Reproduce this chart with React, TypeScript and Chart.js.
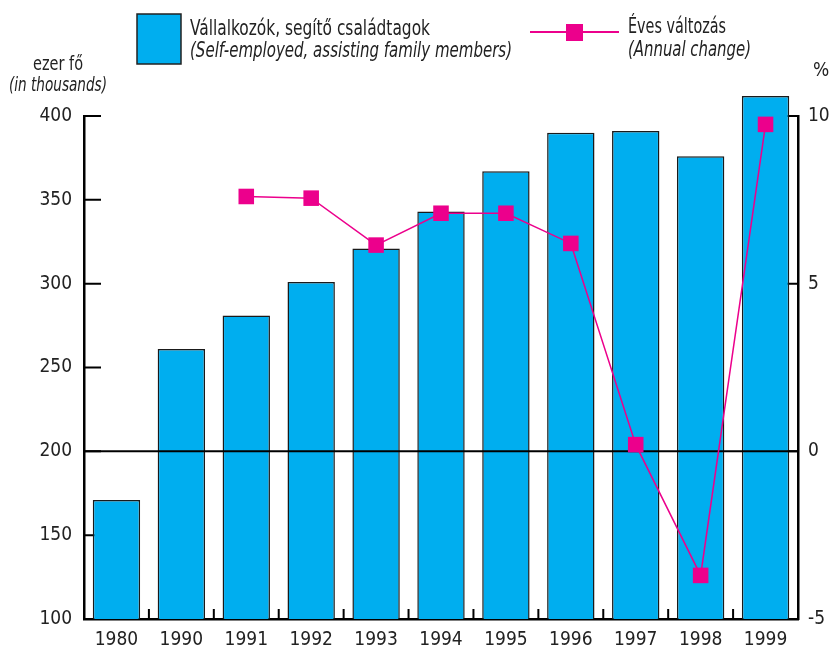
import React, { useEffect, useRef } from "react";
import { Chart, registerables } from "chart.js";

Chart.register(...registerables);

const categories = ["1980", "1990", "1991", "1992", "1993", "1994", "1995", "1996", "1997", "1998", "1999"];
const employed = [171, 261, 281, 301, 321, 343, 367, 390, 391, 376, 412];
const annualChange = [null, null, 7.6, 7.55, 6.15, 7.1, 7.1, 6.2, 0.2, -3.7, 9.75];
const leftTicks = [100, 150, 200, 250, 300, 350, 400];
const rightTicks = [-5, 0, 5, 10];

const BLUE = "#00AEEF";
const MAGENTA = "#EC008C";
const FONT = "'Liberation Sans Narrow', 'DejaVu Sans Condensed', 'Arial Narrow', sans-serif";
const TEXT = "#222";

function fitText(ctx: any, text: string, x: number, y: number, font: string, width: number, align: string) {
  ctx.save();
  ctx.font = font;
  const w = ctx.measureText(text).width;
  const sx = w > 0 ? width / w : 1;
  let left = x;
  if (align === "center") left = x - width / 2;
  ctx.translate(left, y);
  ctx.scale(sx, 1);
  ctx.textAlign = "left";
  ctx.textBaseline = "alphabetic";
  ctx.fillText(text, 0, 0);
  ctx.restore();
}

const overlay = {
  id: "overlay",
  beforeDatasetsDraw(chart: any) {
    const { ctx, chartArea } = chart;
    const y = chart.scales.y;
    const y1 = chart.scales.y1;
    const x = chart.scales.x;
    ctx.save();
    ctx.strokeStyle = "#000";
    ctx.lineWidth = 2;
    ctx.beginPath();
    leftTicks.forEach((v) => {
      const py = y.getPixelForValue(v);
      ctx.moveTo(chartArea.left, py);
      ctx.lineTo(chartArea.left + 17, py);
    });
    rightTicks.forEach((v) => {
      const py = y1.getPixelForValue(v);
      ctx.moveTo(chartArea.right, py);
      ctx.lineTo(chartArea.right - 17, py);
    });
    for (let i = 1; i < categories.length; i++) {
      const px = (x.getPixelForValue(i - 1) + x.getPixelForValue(i)) / 2;
      ctx.moveTo(px, chartArea.bottom);
      ctx.lineTo(px, chartArea.bottom - 10);
    }
    ctx.stroke();
    ctx.restore();
  },
  afterDatasetDraw(chart: any, args: any) {
    if (args.index !== 0) return;
    const { ctx, chartArea } = chart;
    const py = chart.scales.y.getPixelForValue(200);
    ctx.save();
    ctx.strokeStyle = "#000";
    ctx.lineWidth = 2;
    ctx.beginPath();
    ctx.moveTo(chartArea.left, py);
    ctx.lineTo(chartArea.right, py);
    ctx.stroke();
    ctx.restore();
  },
  afterDraw(chart: any) {
    const { ctx } = chart;
    ctx.save();
    // legend bar box
    ctx.fillStyle = BLUE;
    ctx.fillRect(137, 14, 44, 50);
    ctx.strokeStyle = "#222";
    ctx.lineWidth = 1.5;
    ctx.strokeRect(137, 14, 44, 50);
    // legend line
    ctx.strokeStyle = MAGENTA;
    ctx.lineWidth = 2;
    ctx.beginPath();
    ctx.moveTo(530, 32);
    ctx.lineTo(619, 32);
    ctx.stroke();
    ctx.fillStyle = MAGENTA;
    ctx.fillRect(566, 24, 17, 17);

    ctx.fillStyle = TEXT;
    fitText(ctx, "Vállalkozók, segítő családtagok", 190, 35, `21px ${FONT}`, 240, "left");
    fitText(ctx, "(Self-employed, assisting family members)", 190, 57, `italic 21px ${FONT}`, 322, "left");
    fitText(ctx, "Éves változás", 628, 33, `21px ${FONT}`, 98, "left");
    fitText(ctx, "(Annual change)", 628, 56, `italic 21px ${FONT}`, 123, "left");
    fitText(ctx, "ezer fő", 58, 70, `20px ${FONT}`, 50, "center");
    fitText(ctx, "(in thousands)", 58, 91, `italic 20px ${FONT}`, 98, "center");
    ctx.font = `19px ${FONT}`;
    ctx.textAlign = "left";
    ctx.fillText("%", 813, 76);
    ctx.restore();
  },
};

export default function App() {
  const ref = useRef<HTMLCanvasElement | null>(null);
  useEffect(() => {
    if (!ref.current) return;
    const chart = new Chart(ref.current, {
      type: "bar",
      data: {
        labels: categories,
        datasets: [
          {
            type: "bar",
            label: "Vállalkozók, segítő családtagok",
            data: employed,
            backgroundColor: BLUE,
            borderColor: "#1a1a1a",
            borderWidth: 1.5,
            borderSkipped: false,
            barPercentage: 0.73,
            categoryPercentage: 1,
            yAxisID: "y",
            order: 2,
            clip: { left: 0, top: false, right: 0, bottom: 0 },
          } as any,
          {
            type: "line",
            label: "Éves változás",
            data: annualChange,
            borderColor: MAGENTA,
            borderWidth: 1.5,
            backgroundColor: MAGENTA,
            pointStyle: "rect",
            pointRadius: 11,
            pointBorderWidth: 0,
            pointBackgroundColor: MAGENTA,
            spanGaps: false,
            yAxisID: "y1",
            order: 1,
            clip: false,
          } as any,
        ],
      },
      options: {
        responsive: false,
        animation: false,
        layout: { padding: { top: 116, left: 0, right: 0, bottom: 0 } },
        plugins: { legend: { display: false }, tooltip: { enabled: false } },
        scales: {
          x: {
            offset: true,
            grid: { display: false, drawTicks: false },
            border: { display: true, color: "#000", width: 2.5 },
            ticks: { color: TEXT, font: { family: FONT, size: 19 }, padding: 10 },
            afterFit: (s: any) => {
              s.height = 35;
            },
          },
          y: {
            position: "left",
            min: 100,
            max: 400,
            grid: { display: false, drawTicks: false },
            border: { display: true, color: "#000", width: 2.5 },
            ticks: { stepSize: 50, color: TEXT, font: { family: FONT, size: 19 }, padding: 12 },
            afterFit: (s: any) => {
              s.width = 84;
            },
          },
          y1: {
            position: "right",
            min: -5,
            max: 10,
            grid: { display: false, drawTicks: false },
            border: { display: true, color: "#000", width: 2.5 },
            ticks: { stepSize: 5, color: TEXT, font: { family: FONT, size: 19 }, padding: 10 },
            afterFit: (s: any) => {
              s.width = 32;
            },
          },
        },
      } as any,
      plugins: [overlay],
    });
    return () => chart.destroy();
  }, []);
  return (
    <div style={{ position: "fixed", left: 0, top: 0, width: 830, height: 654, background: "#fff" }}>
      <canvas ref={ref} width={830} height={654} />
    </div>
  );
}
